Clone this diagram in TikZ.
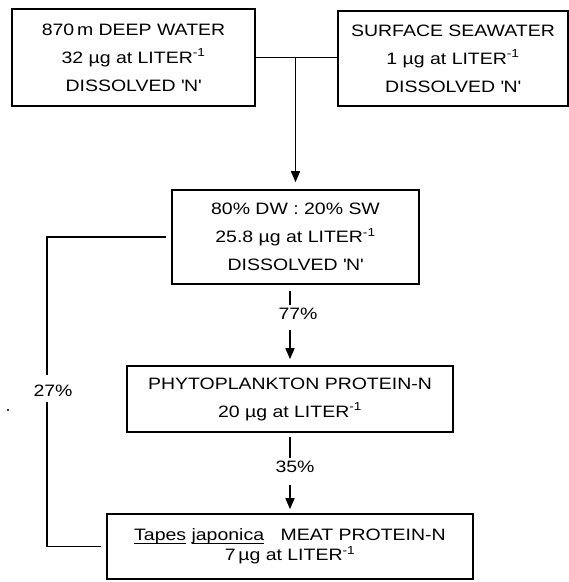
\documentclass[tikz,border=0pt]{standalone}
\usepackage{fontspec}
\setmainfont{Liberation Sans}[FakeStretch=1.18]
\usetikzlibrary{arrows.meta}
\newcommand{\myul}[1]{\setbox0\hbox{#1}\rlap{\rule[-3.5pt]{\wd0}{0.9pt}}\box0\relax}
\newcommand{\inv}{LITER\textsuperscript{-1}}
\newcommand{\qN}{\textquotesingle N\textquotesingle}
\begin{document}
\begin{tikzpicture}[x=1pt,y=-1pt,
  box/.style={draw, line width=1.6pt, inner sep=0pt, align=center,
    font=\fontsize{16.5}{28}\selectfont},
  lbl/.style={inner sep=0pt, text height=11.5pt, text depth=0pt,
    font=\fontsize{16.5}{18}\selectfont},
  conn/.style={line width=1.5pt},
  arr/.style={conn, -{Triangle[width=9pt,length=11pt]}}]
\useasboundingbox (0,0) rectangle (569,582);
\node[box, minimum width=243pt, minimum height=97pt] (dw) at (133.5,57.5)
  {870\,m DEEP WATER\\32 µg at \inv\\DISSOLVED \qN};
\node[box, minimum width=230pt, minimum height=95pt] (sw) at (453,58.5)
  {SURFACE SEAWATER\\1 µg at \inv\\DISSOLVED \qN};
\node[box, minimum width=247pt, minimum height=94pt] (mix) at (295.5,237)
  {80\% DW : 20\% SW\\25.8 µg at \inv\\DISSOLVED \qN};
\node[box, minimum width=326pt, minimum height=66pt] (phyto) at (290,399)
  {PHYTOPLANKTON PROTEIN-N\\20 µg at \inv};
\node[box, minimum width=366pt, minimum height=65pt,
  font=\fontsize{16.5}{20}\selectfont] (meat) at (290,546.5)
  {\myul{Tapes} \myul{japonica}\quad MEAT PROTEIN-N\\7\,µg at \inv};
\node[lbl] (p77) at (298,313.5) {77\%};
\node[lbl] (p35) at (295,466.5) {35\%};
\node[lbl] (p27) at (53,391) {27\%};
% top junction
\draw[conn] (dw.east) -- (dw.east -| sw.west);
\draw[arr, shorten >=7pt] (dw.east -| mix.north) -- (mix.north);
% 77%
\draw[conn, shorten <=6pt, shorten >=3pt] (mix.south -| phyto.north) -- (phyto.north |- p77.north);
\draw[arr, shorten <=11pt, shorten >=6pt] (phyto.north |- p77.south) -- (phyto.north);
% 35%
\draw[conn, shorten <=4pt, shorten >=3pt] (phyto.south) -- (phyto.south |- p35.north);
\draw[arr, shorten <=13pt, shorten >=4pt] (phyto.south |- p35.south) -- (meat.north);
% 27%
\draw[conn, shorten <=5pt, shorten >=10.5pt] (mix.west) -| (p27.north -| 47,0);
\draw[conn, shorten <=5.5pt, shorten >=5pt] (p27.south -| 47,0) |- (meat.west);
\fill (8,410) circle (1.2pt);
\end{tikzpicture}
\end{document}
